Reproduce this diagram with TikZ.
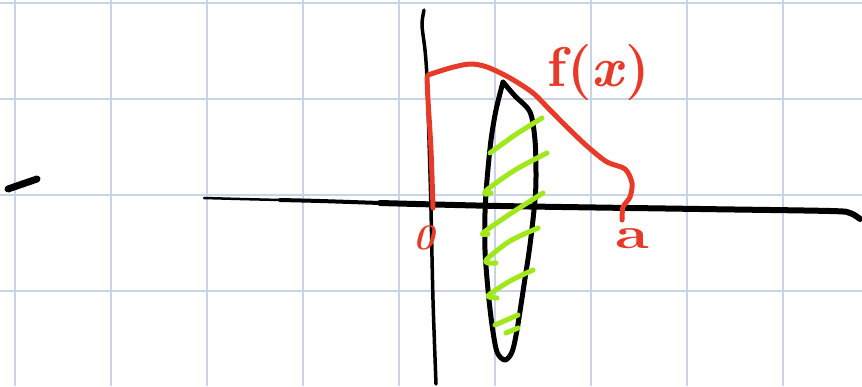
\documentclass[tikz,border=0pt]{standalone}
\usepackage{fontspec}
\setmainfont{Latin Modern Roman}
\usetikzlibrary{calc}
\definecolor{gridc}{RGB}{200,212,230}
\definecolor{penred}{RGB}{232,58,40}
\definecolor{pengreen}{RGB}{160,232,28}
\tikzset{
  gridline/.style={draw=gridc, line width=1.5pt},
  ink/.style={draw=black, line width=5pt, line cap=round, line join=round},
  redink/.style={draw=penred, line width=5pt, line cap=round, line join=round},
  hatch/.style={draw=pengreen, line width=5pt, line cap=round, line join=round},
  lbl/.style={text=penred, inner sep=0pt}
}
\begin{document}
\begin{tikzpicture}[x=1pt,y=-1pt]
\useasboundingbox (0,0) rectangle (862,386);
\fill[white] (0,0) rectangle (862,386);
% grid
\foreach \gx in {15,111,...,879} \draw[gridline] (\gx,0) -- (\gx,386);
\foreach \gy in {3,99,195,291} \draw[gridline] (0,\gy) -- (862,\gy);
% stray tick
\draw[ink, line width=7pt] (8,189) -- (37,179);
% x-axis
\draw[ink, line width=2.5pt] plot[smooth] coordinates {(204,198) (240,199) (280,200)};
\draw[ink, line width=4pt] plot[smooth] coordinates {(280,200) (320,201) (380,203)};
\draw[ink, line width=6pt] plot[smooth] coordinates {(380,203) (500,206) (700,209) (830,211) (850,213) (860,219)};
% y-axis
\draw[ink, line width=3.5pt] plot[smooth] coordinates {(424,10) (422,25) (425,50) (427,78) (429,140) (431,210) (433,300) (436,384)};
% shape
\draw[ink] plot[smooth] coordinates {(503,82) (515,96) (530,112) (535,140) (536,175) (535,200) (530,245) (524,285) (517,330) (512,352) (505,360) (497,352) (492,325) (488,290) (485,250) (485,213) (487,180) (491,140) (496,110) (503,82)};
% green hatching
\draw[hatch] plot[smooth] coordinates {(542,118) (515,135) (490,153)};
\draw[hatch] plot[smooth] coordinates {(547,153) (515,170) (488,189) (485,194) (491,193)};
\draw[hatch] plot[smooth] coordinates {(543,193) (510,214) (483,233) (488,234)};
\draw[hatch] plot[smooth] coordinates {(538,228) (510,241) (487,259) (488,263) (496,263)};
\draw[hatch] plot[smooth] coordinates {(533,270) (510,281) (490,294) (489,297) (497,298)};
\draw[hatch] plot[smooth] coordinates {(518,315) (495,325)};
\draw[hatch] plot[smooth] coordinates {(518,328) (506,333)};
% red function
\draw[redink] plot[smooth] coordinates {(433,208) (431,150) (428,100) (427,77)};
\draw[redink] plot[smooth] coordinates {(428,75) (450,68) (470,64) (487,67) (510,78) (533,93) (550,110) (570,130) (588,147) (607,162) (625,169) (632,183) (630,197) (623,207) (622,220)};
% labels
\node[lbl, font=\fontsize{56}{56}\selectfont\bfseries] (fx) at (599,73) {f(\textit{x})};
\node[lbl, font=\fontsize{36}{36}\selectfont\bfseries\itshape] (zero) at (424,238) {0};
\node[lbl, font=\fontsize{44}{44}\selectfont\bfseries, xscale=1.4] (alab) at (632,239) {a};
\end{tikzpicture}
\end{document}
